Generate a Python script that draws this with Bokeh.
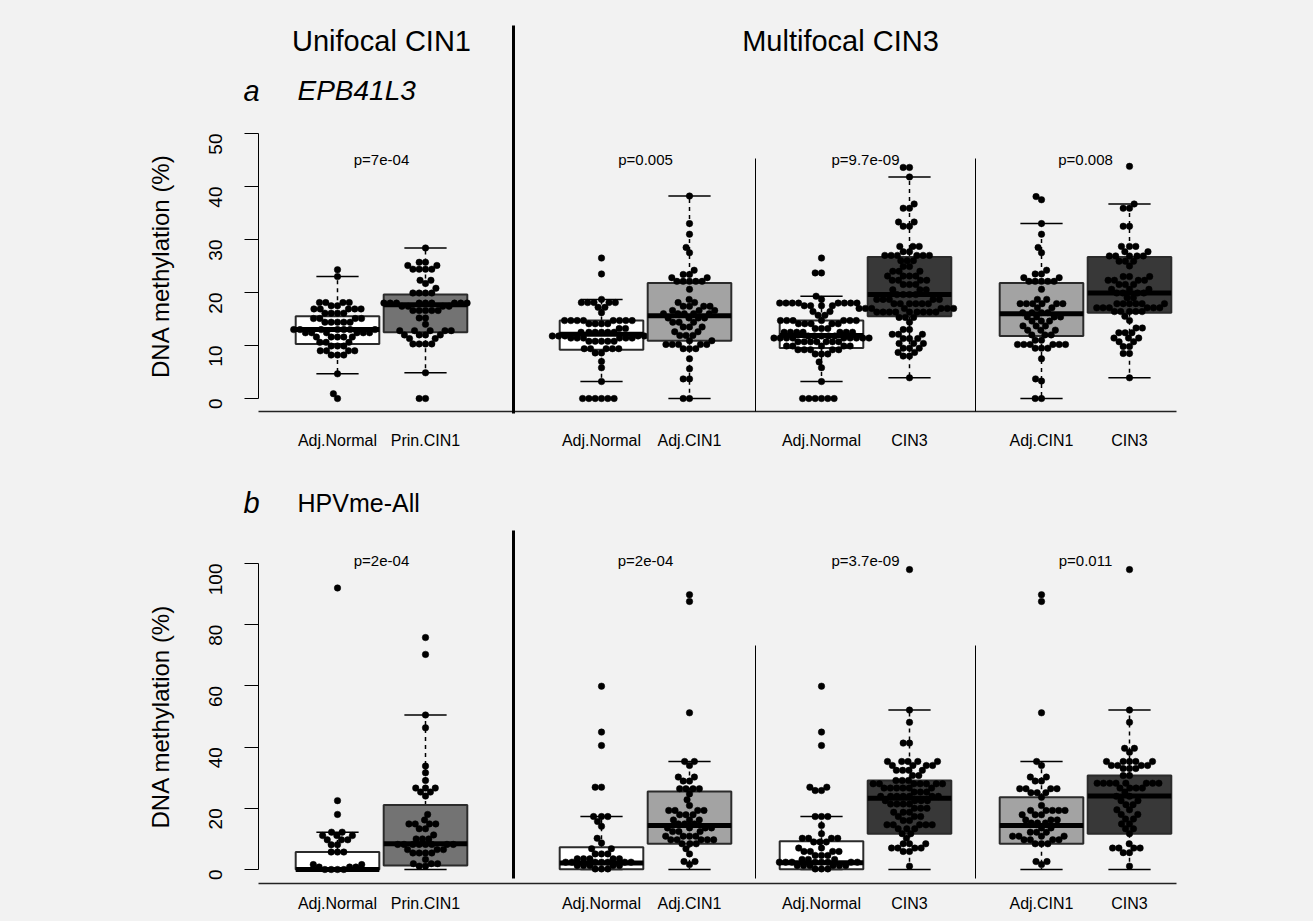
import math
from bokeh.plotting import figure
from bokeh.layouts import column
from bokeh.models import Range1d, FixedTicker, Label, LinearAxis
from bokeh.embed import file_html
from bokeh.resources import INLINE

FONT = "Liberation Sans"
BG = "#f2f2f2"

# ---------------- data ----------------
group_labels = ["Adj.Normal", "Prin.CIN1", "Adj.Normal", "Adj.CIN1",
                "Adj.Normal", "CIN3", "Adj.CIN1", "CIN3"]
group_fill = ["#ffffff", "#737373", "#ffffff", "#a3a3a3",
              "#ffffff", "#383838", "#a3a3a3", "#383838"]
pvals_a = ["p=7e-04", "p=0.005", "p=9.7e-09", "p=0.008"]
pvals_b = ["p=2e-04", "p=2e-04", "p=3.7e-09", "p=0.011"]
yticks_a = [0, 10, 20, 30, 40, 50]
yticks_b = [0, 20, 40, 60, 80, 100]

# box stats: (lower whisker, q1, median, q3, upper whisker)
box_a = [
    (4.65, 10.3, 13.0, 15.5, 23.0),
    (4.85, 12.5, 17.7, 19.6, 28.4),
    (3.2, 9.2, 12.1, 14.7, 18.7),
    (0.0, 10.9, 15.6, 21.8, 38.2),
    (3.2, 9.55, 11.9, 14.7, 19.3),
    (3.9, 15.5, 19.6, 26.7, 41.8),
    (0.0, 11.8, 16.0, 21.8, 33.0),
    (3.9, 16.2, 19.9, 26.7, 36.7),
]
box_b = [
    (0.0, 0.0, 0.0, 5.7, 12.2),
    (0.0, 1.3, 8.4, 21.1, 50.5),
    (0.0, 0.1, 2.1, 7.3, 17.3),
    (0.0, 8.4, 14.4, 25.5, 35.3),
    (0.0, 0.1, 2.2, 9.2, 17.3),
    (0.0, 11.7, 23.3, 29.1, 52.1),
    (0.0, 8.4, 14.4, 23.6, 35.3),
    (0.0, 11.7, 24.0, 30.7, 52.1),
]

# individual samples as (value, number of samples at that value)
pts_a1 = [(24.3, 1), (23.0, 1), (18.1, 4), (17.5, 2), (16.9, 5), (16.1, 4), (15.1, 4),
          (14.4, 5), (13.0, 7), (12.4, 6), (11.6, 5), (10.6, 3), (9.9, 3), (9.0, 4),
          (8.2, 3), (4.65, 1), (0.9, 1), (0.0, 1)]
pts_a2 = [(28.4, 1), (25.7, 2), (25.1, 2), (24.4, 4), (22.3, 2), (21.7, 1), (20.8, 1),
          (19.9, 4), (18.0, 9), (17.4, 4), (16.6, 5), (15.2, 2), (14.0, 1), (12.8, 5),
          (12.0, 4), (11.3, 2), (10.3, 4), (4.85, 1), (0.0, 2)]
pts_a3 = [(26.5, 1), (23.5, 1), (18.7, 1), (18.1, 5), (17.2, 2), (16.2, 1), (14.7, 8),
          (14.1, 4), (13.2, 2), (12.5, 6), (11.8, 5), (11.4, 6), (10.8, 5), (9.4, 5),
          (8.6, 2), (7.0, 1), (5.8, 1), (3.2, 1), (0.0, 6)]
pts_a4 = [(38.2, 1), (33.0, 1), (31.0, 1), (28.5, 1), (27.5, 1), (24.2, 1), (23.4, 2),
          (22.8, 2), (22.1, 5), (20.6, 1), (18.7, 1), (18.1, 2), (17.4, 4), (16.6, 3),
          (16.0, 5), (15.2, 4), (14.4, 3), (13.5, 3), (12.6, 2), (11.9, 3), (10.9, 2),
          (10.2, 5), (9.4, 3), (7.5, 1), (5.6, 1), (3.7, 2), (0.0, 2)]
pts_a5 = [(26.5, 1), (23.7, 2), (19.3, 1), (18.7, 1), (18.0, 8), (17.5, 4), (16.4, 2),
          (15.7, 2), (14.7, 7), (14.1, 5), (13.2, 3), (12.5, 7), (11.8, 5), (11.4, 9),
          (10.7, 7), (9.9, 5), (9.2, 5), (8.4, 3), (6.9, 1), (5.8, 1), (3.2, 1), (0.0, 6)]
pts_a6 = [(43.6, 2), (41.8, 1), (36.7, 1), (35.9, 2), (33.3, 2), (32.5, 2), (28.7, 3),
          (27.7, 2), (27.0, 6), (26.0, 3), (24.9, 2), (24.0, 3), (23.1, 4), (22.3, 4),
          (21.5, 3), (20.5, 3), (19.6, 4), (18.7, 5), (17.9, 6), (17.0, 7), (16.3, 9),
          (15.3, 3), (14.4, 1), (13.0, 2), (12.1, 3), (11.3, 3), (10.4, 3), (9.5, 3),
          (8.7, 2), (8.0, 2), (3.9, 1)]
pts_a7 = [(38.1, 1), (37.5, 1), (33.0, 1), (31.0, 1), (28.5, 1), (27.5, 1), (24.2, 1),
          (23.5, 2), (22.8, 2), (22.1, 5), (20.6, 1), (18.7, 2), (17.9, 6), (17.1, 2),
          (16.2, 4), (15.4, 4), (14.6, 3), (13.7, 3), (12.9, 3), (12.0, 3), (11.0, 2),
          (10.2, 6), (9.5, 3), (7.5, 1), (3.7, 1), (3.3, 1), (0.0, 2)]
pts_a8 = [(43.8, 1), (36.7, 1), (35.9, 2), (32.5, 2), (28.7, 3), (27.7, 2), (26.9, 5),
          (25.9, 3), (25.0, 1), (23.0, 3), (22.3, 4), (21.5, 3), (20.6, 3), (19.9, 4),
          (19.0, 2), (17.9, 6), (17.1, 6), (16.4, 5), (15.5, 1), (14.7, 1), (13.3, 2),
          (12.4, 3), (11.4, 3), (10.7, 2), (9.8, 2), (8.5, 2), (3.9, 1)]

pts_b1 = [(92.0, 1), (22.5, 1), (18.0, 1), (12.2, 2), (11.1, 3), (9.7, 3), (8.1, 2),
          (5.7, 3), (1.6, 2), (0.8, 3), (0.0, 4)]
pts_b2 = [(75.8, 1), (70.3, 1), (50.5, 1), (46.3, 1), (33.8, 1), (31.6, 1), (29.1, 1),
          (26.6, 3), (25.3, 2), (24.0, 1), (18.0, 1), (16.2, 1), (14.9, 4), (13.3, 2),
          (11.3, 1), (10.0, 3), (8.2, 8), (6.5, 3), (5.4, 4), (3.3, 1), (1.9, 3), (1.1, 2)]
pts_b3 = [(59.9, 1), (44.9, 1), (40.5, 1), (26.9, 2), (17.3, 3), (15.7, 1), (14.1, 1),
          (10.2, 1), (8.7, 1), (6.8, 2), (5.1, 3), (3.5, 5), (2.4, 7), (1.3, 5), (0.2, 3)]
pts_b4 = [(89.8, 1), (87.6, 1), (51.2, 1), (35.3, 2), (34.0, 1), (30.2, 2), (28.9, 2),
          (26.4, 4), (24.7, 1), (22.8, 1), (20.9, 1), (19.3, 4), (17.9, 3), (16.2, 3),
          (14.9, 3), (13.6, 4), (12.4, 3), (10.9, 4), (9.7, 5), (8.4, 3), (6.8, 1),
          (5.1, 1), (2.6, 2), (1.6, 1)]
pts_b5 = [(59.9, 1), (44.9, 1), (40.5, 1), (26.9, 2), (25.8, 2), (17.3, 3), (14.4, 1),
          (11.7, 1), (10.2, 4), (9.0, 3), (7.0, 2), (5.9, 4), (4.6, 3), (3.3, 3),
          (2.4, 8), (1.3, 6), (0.2, 3)]
pts_b6 = [(98.0, 1), (52.1, 1), (48.1, 1), (41.3, 2), (35.3, 5), (34.0, 4), (32.4, 4),
          (30.7, 2), (29.1, 3), (28.0, 7), (26.6, 6), (25.3, 3), (23.9, 7), (22.5, 4),
          (21.4, 4), (20.0, 3), (18.7, 3), (17.3, 3), (16.0, 2), (14.6, 5), (13.3, 3),
          (11.7, 2), (10.2, 1), (8.4, 3), (7.0, 4), (5.9, 2), (1.1, 1)]
pts_b7 = [(89.8, 1), (87.6, 1), (51.2, 1), (35.3, 1), (34.0, 1), (30.2, 2), (28.9, 2),
          (26.4, 4), (25.1, 3), (23.6, 1), (20.9, 1), (19.3, 5), (17.9, 3), (16.2, 3),
          (15.2, 3), (13.6, 2), (12.2, 3), (10.9, 4), (9.7, 4), (8.4, 3), (2.6, 2), (1.6, 1)]
pts_b8 = [(98.0, 1), (52.1, 1), (48.1, 1), (39.6, 2), (38.3, 1), (35.3, 5), (34.0, 4),
          (33.0, 3), (30.7, 2), (28.2, 8), (26.6, 4), (25.3, 1), (23.9, 2), (22.5, 2),
          (21.2, 2), (19.5, 2), (18.0, 2), (16.5, 2), (14.9, 2), (13.3, 2), (11.7, 1),
          (8.4, 1), (7.0, 4), (5.5, 2), (1.1, 1)]

pts_a = [pts_a1, pts_a2, pts_a3, pts_a4, pts_a5, pts_a6, pts_a7, pts_a8]
pts_b = [pts_b1, pts_b2, pts_b3, pts_b4, pts_b5, pts_b6, pts_b7, pts_b8]

# ---------------- layout constants (page pixels) ----------------
XPOS = [0, 1, 3, 4, 5.5, 6.5, 8, 9]      # group positions
PAIR_MID = [0.5, 3.5, 6.0, 8.5]
PX_PER_X = 88.0
X_ORIGIN_PX = 337.0
FIG_W = 1313
X0 = -X_ORIGIN_PX / PX_PER_X
X1 = (FIG_W - X_ORIGIN_PX) / PX_PER_X
px2x = lambda px: (px - X_ORIGIN_PX) / PX_PER_X
YAXIS_X = px2x(258)
BOX_HW = 0.475
CAP_HW = 0.24
DOT = 6.5
SPACING = 6.3
BORDER_B = 33


def expand(pairs):
    out = []
    for v, n in pairs:
        out.extend([v] * n)
    return out


def swarm(vals, ypx):
    order = sorted(range(len(vals)), key=lambda i: vals[i])
    placed = []
    off = [0.0] * len(vals)
    d2 = SPACING * SPACING
    for i in order:
        y = vals[i] * ypx
        cands = [0.0]
        for xj, yj in placed:
            dy = abs(y - yj)
            if dy < SPACING:
                dx = math.sqrt(d2 - dy * dy)
                cands.append(xj + dx)
                cands.append(xj - dx)
        cands.sort(key=lambda c: (abs(c), c))
        chosen = 0.0
        for c in cands:
            if all((c - xj) ** 2 + (y - yj) ** 2 >= d2 - 1e-6 for xj, yj in placed):
                chosen = c
                break
        placed.append((chosen, y))
        off[i] = chosen
    return off


def make_panel(top_px, bottom_px, zero_px, ypx, yticks, boxes, pts, pvals):
    # page y -> data y
    py = lambda p_: (zero_px - p_) / ypx
    height = bottom_px - top_px
    frame_bottom = bottom_px - BORDER_B
    p = figure(width=FIG_W, height=height, output_backend="svg", toolbar_location=None,
               x_range=Range1d(X0, X1), y_range=Range1d(py(frame_bottom), py(top_px)),
               min_border_left=0, min_border_right=0, min_border_top=0,
               min_border_bottom=BORDER_B, background_fill_color=BG,
               border_fill_color=BG, outline_line_color=None, y_axis_location=None)
    p.grid.visible = False
    # y axis drawn at a fixed position inside the frame
    ya = LinearAxis(fixed_location=YAXIS_X, ticker=FixedTicker(ticks=yticks),
                    bounds=(yticks[0], yticks[-1]))
    ya.major_label_orientation = math.pi / 2
    ya.major_label_text_font = FONT
    ya.major_label_text_font_size = "19px"
    ya.major_label_text_color = "black"
    ya.major_label_standoff = 29
    ya.major_tick_out = 14
    ya.major_tick_in = 0
    ya.minor_tick_line_color = None
    ya.axis_line_color = "black"
    ya.major_tick_line_color = "black"
    p.add_layout(ya, "left")
    # x axis (labels only)
    xa = p.xaxis[0]
    xa.ticker = FixedTicker(ticks=[float(x) for x in XPOS])
    xa.major_label_overrides = {float(x): lab for x, lab in zip(XPOS, group_labels)}
    xa.axis_line_color = None
    xa.major_tick_line_color = None
    xa.minor_tick_line_color = None
    xa.major_label_text_font = FONT
    xa.major_label_text_font_size = "16px"
    xa.major_label_text_color = "black"
    xa.major_label_standoff = 0

    for k, (lo, q1, med, q3, hi) in enumerate(boxes):
        c = XPOS[k]
        p.segment(x0=[c, c], y0=[q3, q1], x1=[c, c], y1=[hi, lo], line_color="black",
                  line_width=1.5, line_dash="4 4")
        p.segment(x0=[c - CAP_HW, c - CAP_HW], y0=[hi, lo], x1=[c + CAP_HW, c + CAP_HW],
                  y1=[hi, lo], line_color="black", line_width=1.5)
        p.quad(left=[c - BOX_HW], right=[c + BOX_HW], bottom=[q1], top=[q3],
               fill_color=group_fill[k], line_color="#2b2b2b", line_width=2)
        p.segment(x0=[c - BOX_HW], y0=[med], x1=[c + BOX_HW], y1=[med], line_color="black",
                  line_width=5, line_cap="butt")
        vals = expand(pts[k])
        off = swarm(vals, ypx)
        p.scatter(x=[c + o / PX_PER_X for o in off], y=vals, size=DOT, marker="circle",
                  fill_color="black", line_color="black", line_width=0.5)

    p.add_layout(Label(x=px2x(160), y=(yticks[0] + yticks[-1]) / 2, text="DNA methylation (%)",
                       angle=math.pi / 2, text_font=FONT, text_font_size="24px",
                       text_align="center", text_baseline="middle", text_color="black"))
    return p, py


# Row a: value 0 at page y 398, 5.3 px per unit
pa, ya_y = make_panel(0, 458, 398.0, 5.3, yticks_a, box_a, pts_a, pvals_a)
# Row b: value 0 at page y 869, 3.06 px per unit
pb, yb_y = make_panel(458, 921, 869.0, 3.06, yticks_b, box_b, pts_b, pvals_b)

# baselines, separators (page-pixel layout converted to data)
pa.segment(x0=[YAXIS_X], y0=[ya_y(411)], x1=[px2x(1176)], y1=[ya_y(411)],
           line_color="#222222", line_width=1.5)
pa.segment(x0=[2.0], y0=[ya_y(413)], x1=[2.0], y1=[ya_y(25)], line_color="black", line_width=3)
pa.segment(x0=[4.75, 7.25], y0=[ya_y(411)] * 2, x1=[4.75, 7.25], y1=[ya_y(158)] * 2,
           line_color="black", line_width=1)
pb.segment(x0=[YAXIS_X], y0=[yb_y(883)], x1=[px2x(1176)], y1=[yb_y(883)],
           line_color="#222222", line_width=1.5)
pb.segment(x0=[2.0], y0=[yb_y(878)], x1=[2.0], y1=[yb_y(530)], line_color="black", line_width=3)
pb.segment(x0=[4.75, 7.25], y0=[yb_y(878)] * 2, x1=[4.75, 7.25], y1=[yb_y(645)] * 2,
           line_color="black", line_width=1)

for m, t in zip(PAIR_MID, pvals_a):
    pa.add_layout(Label(x=m, y=ya_y(159), text=t, text_font=FONT, text_font_size="15px",
                        text_align="center", text_baseline="middle", text_color="black"))
for m, t in zip(PAIR_MID, pvals_b):
    pb.add_layout(Label(x=m, y=yb_y(560), text=t, text_font=FONT, text_font_size="15px",
                        text_align="center", text_baseline="middle", text_color="black"))

pa.add_layout(Label(x=0.5, y=ya_y(40), text="Unifocal CIN1", text_font=FONT,
                    text_font_size="29px", text_align="center", text_baseline="middle",
                    text_color="black"))
pa.add_layout(Label(x=px2x(840), y=ya_y(40), text="Multifocal CIN3", text_font=FONT,
                    text_font_size="29px", text_align="center", text_baseline="middle",
                    text_color="black"))
pa.add_layout(Label(x=px2x(251), y=ya_y(90), text="a", text_font=FONT,
                    text_font_size="29px", text_font_style="italic", text_align="center",
                    text_baseline="middle", text_color="black"))
pa.add_layout(Label(x=px2x(297), y=ya_y(90), text="EPB41L3", text_font=FONT,
                    text_font_size="28px", text_font_style="italic", text_align="left",
                    text_baseline="middle", text_color="black"))
pb.add_layout(Label(x=px2x(251), y=yb_y(502), text="b", text_font=FONT,
                    text_font_size="29px", text_font_style="italic", text_align="center",
                    text_baseline="middle", text_color="black"))
pb.add_layout(Label(x=px2x(297), y=yb_y(502), text="HPVme-All", text_font=FONT,
                    text_font_size="25px", text_align="left", text_baseline="middle",
                    text_color="black"))

layout = column(pa, pb, spacing=0, background=BG)
open("out.html", "w").write(file_html(layout, INLINE))
